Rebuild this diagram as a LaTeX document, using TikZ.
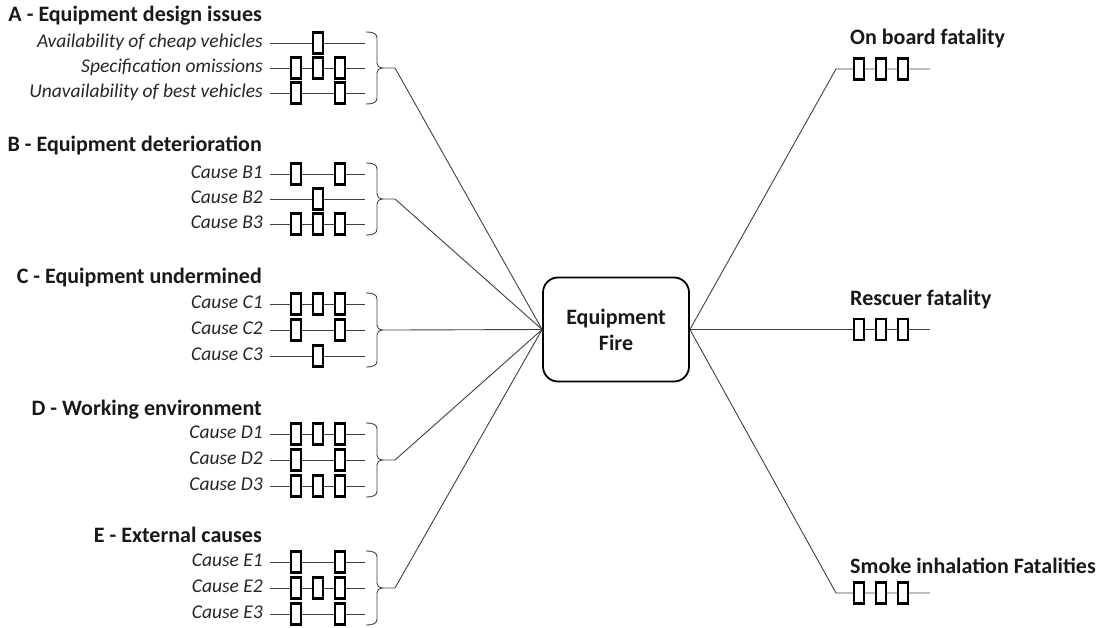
\documentclass[tikz,border=0pt]{standalone}
\usepackage{fontspec}
\setmainfont{Carlito}
\begin{document}
\begin{tikzpicture}[x=1pt,y=-1pt,
  conn/.style={line width=0.9pt, draw=black!75},
  relbox/.style={draw=black, line width=2.1pt, fill=white, minimum width=10pt, minimum height=21pt, inner sep=0pt},
  heading/.style={font=\fontsize{22}{24}\selectfont\bfseries, anchor=base east, inner sep=0pt, text=black!90},
  rheading/.style={heading, anchor=base west},
  causelabel/.style={font=\fontsize{19.5}{22}\selectfont\itshape, anchor=base east, inner sep=0pt, text=black!85},
  topevent/.style={draw=black, line width=1.8pt, rounded corners=15pt, minimum width=146pt, minimum height=104pt, align=center, font=\fontsize{22}{26}\selectfont\bfseries, text=black!90}]
\useasboundingbox (0,0) rectangle (1110,628);

% central event
\node[topevent] (fire) at (616,329.5) {Equipment\\Fire};

% group headings
\node[heading] (hA) at (262,22) {A - Equipment design issues};
\node[heading] (hB) at (262,152) {B - Equipment deterioration};
\node[heading] (hC) at (262,283) {C - Equipment undermined};
\node[heading] (hD) at (262,415) {D - Working environment};
\node[heading] (hE) at (262,542) {E - External causes};

% cause rows
\foreach \id/\y/\lab/\slots in {
  A1/43/{Availability of cheap vehicles}/{318},
  A2/68/{Specification omissions}/{296,318,340},
  A3/93/{Unavailability of best vehicles}/{296,340},
  B1/174/{Cause B1}/{296,340},
  B2/199/{Cause B2}/{318},
  B3/224/{Cause B3}/{296,318,340},
  C1/304/{Cause C1}/{296,318,340},
  C2/330/{Cause C2}/{296,340},
  C3/356/{Cause C3}/{318},
  D1/434/{Cause D1}/{296,318,340},
  D2/460/{Cause D2}/{296,340},
  D3/486/{Cause D3}/{296,318,340},
  E1/562/{Cause E1}/{296,340},
  E2/588/{Cause E2}/{296,318,340},
  E3/614/{Cause E3}/{296,340}}{
  \node[causelabel] (lab\id) at (263,\y+4.5) {\lab};
  \coordinate (ls\id) at (270,\y);
  \coordinate (le\id) at (365,\y);
  \draw[conn] (ls\id) -- (le\id);
  \foreach \s [count=\k] in \slots {
    \node[relbox] (box\id-\k) at (\s,\y) {};
  }
}

% brackets and connectors to the central event
\foreach \g/\t/\b/\c in {A/43/93/68, B/174/224/199, C/304/356/330, D/434/486/460, E/562/614/588}{
  \coordinate (cusp\g) at (382,\c);
  \coordinate (join\g) at (395,\c);
  \draw[conn] (366,\t-11) .. controls (374,\t-11) and (377,\t-9) .. (377,\t-5)
     -- (377,\c-5) .. controls (377,\c-2) and (379,\c) .. (cusp\g)
     .. controls (379,\c) and (377,\c+2) .. (377,\c+5)
     -- (377,\b+5) .. controls (377,\b+9) and (374,\b+11) .. (366,\b+11);
  \draw[conn] (cusp\g) -- (join\g) -- (fire.west);
}

% consequences
\foreach \id/\y/\lab/\lb in {R1/69/{On board fatality}/45, R2/329.5/{Rescuer fatality}/305, R3/593/{Smoke inhalation Fatalities}/573}{
  \node[rheading] (lab\id) at (850,\lb) {\lab};
  \coordinate (rs\id) at (836,\y);
  \coordinate (re\id) at (930,\y);
  \draw[conn] (fire.east) -- (rs\id) -- (re\id);
  \foreach \s [count=\k] in {859,881,903} {
    \node[relbox] (box\id-\k) at (\s,\y) {};
  }
}
\end{tikzpicture}
\end{document}
